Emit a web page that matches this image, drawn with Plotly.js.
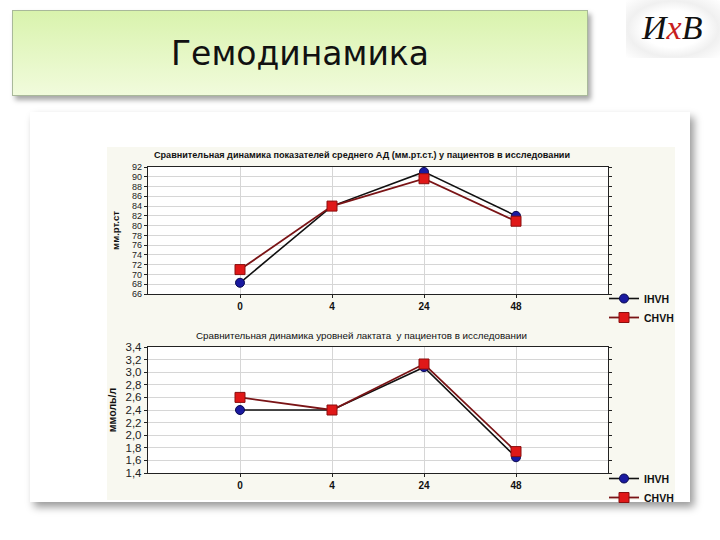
<!DOCTYPE html>
<html>
<head>
<meta charset="utf-8">
<script src="https://cdn.plot.ly/plotly-3.0.1.min.js"></script>
<style>
  html, body { margin:0; padding:0; background:#ffffff; }
  #wrap { position:relative; width:720px; height:540px; overflow:hidden; }
  #titlebox { position:absolute; left:12px; top:10px; width:574px; height:84px;
    background:linear-gradient(#d9f3ad, #f1fbdc); border:1px solid #a9b99a;
    box-shadow:3px 4px 5px rgba(0,0,0,0.35); }
  #logobg { position:absolute; left:626px; top:0px; width:94px; height:58px;
    background:radial-gradient(ellipse at center, #ffffff 45%, #f0f0f0 68%, #ffffff 100%); }
  #panel { position:absolute; left:30px; top:112px; width:660px; height:390px;
    background:#ffffff; box-shadow:4px 5px 8px rgba(0,0,0,0.4); }
  #inner { position:absolute; left:107px; top:147px; width:568px; height:353px;
    background:#f8f8f0; }
  #chart { position:absolute; left:0; top:0; width:720px; height:540px; }
</style>
</head>
<body>
<div id="wrap">
  <div id="titlebox"></div>
  <div id="logobg"></div>
  <div id="panel"></div>
  <div id="inner"></div>
  <div id="chart"></div>
</div>
<script>
// Data
const timepoints = ['0', '4', '24', '48'];
const seriesNames = ['IHVH', 'CHVH'];
const mapIHVH = [68.3, 84.0, 91.0, 82.0];
const mapCHVH = [71.0, 84.0, 89.6, 80.9];
const lactIHVH = [2.40, 2.40, 3.08, 1.65];
const lactCHVH = [2.60, 2.40, 3.13, 1.74];
const mapTicks = [66,68,70,72,74,76,78,80,82,84,86,88,90,92];
const lactTicks = [1.4,1.6,1.8,2.0,2.2,2.4,2.6,2.8,3.0,3.2,3.4];

const slideTitle = 'Гемодинамика';
const chart1Title = 'Сравнительная динамика показателей среднего АД (мм.рт.ст.) у пациентов в исследовании';
const chart2Title = 'Сравнительная динамика уровней лактата  у пациентов в исследовании';
const yLabel1 = 'мм.рт.ст';
const yLabel2 = 'ммоль/л';

const narrow = 'Liberation Sans Narrow, Liberation Sans, Arial, sans-serif';

function mk(y, name, xa, ya, leg, isRed) {
  return {
    x: timepoints, y: y, name: name, xaxis: xa, yaxis: ya, legend: leg,
    type: 'scatter', mode: 'lines+markers',
    line: {color: isRed ? '#7a1416' : '#111111', width: isRed ? 1.8 : 1.6},
    marker: isRed
      ? {symbol: 'square', size: 10, color: '#e01818', line: {color: '#8a0f0f', width: 1}}
      : {symbol: 'circle', size: 9, color: '#1a1aa0', line: {color: '#0a0a50', width: 1}},
    hoverinfo: 'x+y+name'
  };
}

const data = [
  mk(mapIHVH, seriesNames[0], 'x', 'y', 'legend', false),
  mk(mapCHVH, seriesNames[1], 'x', 'y', 'legend', true),
  mk(lactIHVH, seriesNames[0], 'x2', 'y2', 'legend2', false),
  mk(lactCHVH, seriesNames[1], 'x2', 'y2', 'legend2', true)
];

const xCommon = {
  type: 'category', range: [-1, 4], showgrid: true, gridcolor: '#d6d6d6', gridwidth: 1,
  showline: true, linecolor: '#222', linewidth: 1.2, mirror: true,
  ticks: 'outside', ticklen: 3, tickcolor: '#222',
  tickfont: {family: 'Liberation Sans, Arial, sans-serif', size: 10, color: '#111', weight: 'bold'},
  zeroline: false, fixedrange: true
};
const legFont = {family: 'Liberation Sans, Arial, sans-serif', size: 10.5, color: '#111', weight: 'bold'};
const W = 720, H = 540;
const layout = {
  width: W, height: H,
  margin: {l: 0, r: 0, t: 0, b: 0},
  paper_bgcolor: 'rgba(0,0,0,0)', plot_bgcolor: '#ffffff',
  separators: ', ',
  showlegend: true,
  title: {text: slideTitle, x: 300/W, xanchor: 'center', y: 1 - 53/H, yanchor: 'middle',
    font: {family: 'DejaVu Sans, sans-serif', size: 33, color: '#111'}},
  xaxis: Object.assign({}, xCommon, {domain: [148/W, 608/W], anchor: 'y'}),
  xaxis2: Object.assign({}, xCommon, {domain: [148/W, 608/W], anchor: 'y2'}),
  yaxis: {
    domain: [1 - 294/H, 1 - 167/H], anchor: 'x', range: [66, 92],
    tickvals: mapTicks, ticktext: mapTicks.map(String),
    showgrid: true, gridcolor: '#d6d6d6', showline: true, linecolor: '#222', linewidth: 1.2,
    mirror: 'ticks', ticks: 'outside', ticklen: 3, tickcolor: '#222',
    tickfont: {family: narrow, size: 9, color: '#222'}, zeroline: false,
    title: {text: yLabel1, standoff: 10, font: {family: 'Liberation Sans, Arial, sans-serif', size: 9.5, color: '#111', weight: 'bold'}}
  },
  yaxis2: {
    domain: [1 - 473/H, 1 - 347/H], anchor: 'x2', range: [1.4, 3.4],
    tickvals: lactTicks, tickformat: '.1f',
    showgrid: true, gridcolor: '#d6d6d6', showline: true, linecolor: '#222', linewidth: 1.2,
    mirror: 'ticks', ticks: 'outside', ticklen: 3, tickcolor: '#222',
    tickfont: {family: narrow, size: 11.5, color: '#222'}, zeroline: false,
    title: {text: yLabel2, standoff: 6, font: {family: 'Liberation Sans, Arial, sans-serif', size: 10.5, color: '#111', weight: 'bold'}}
  },
  legend: {x: 604/W, y: 1 - 284/H, xanchor: 'left', yanchor: 'top', bgcolor: 'rgba(0,0,0,0)',
    itemwidth: 30, tracegroupgap: 0, font: legFont},
  legend2: {x: 604/W, y: 1 - 464/H, xanchor: 'left', yanchor: 'top', bgcolor: 'rgba(0,0,0,0)',
    itemwidth: 30, tracegroupgap: 0, font: legFont},
  annotations: [
    {text: chart1Title, xref: 'paper', yref: 'paper', x: 362/W, y: 1 - 155/H,
     xanchor: 'center', yanchor: 'middle', showarrow: false,
     font: {family: narrow, size: 9.1, color: '#111', weight: 'bold'}},
    {text: chart2Title, xref: 'paper', yref: 'paper', x: 361/W, y: 1 - 335/H,
     xanchor: 'center', yanchor: 'middle', showarrow: false,
     font: {family: narrow, size: 9.8, color: '#111'}},
    {text: 'И<span style="color:#c81e1e">x</span>B', xref: 'paper', yref: 'paper', x: 672/W, y: 1 - 28/H,
     xanchor: 'center', yanchor: 'middle', showarrow: false,
     font: {family: 'Liberation Serif, DejaVu Serif, serif', size: 34, color: '#111', style: 'italic'}}
  ]
};

Plotly.newPlot('chart', data, layout, {staticPlot: true, displayModeBar: false});
</script>
</body>
</html>
